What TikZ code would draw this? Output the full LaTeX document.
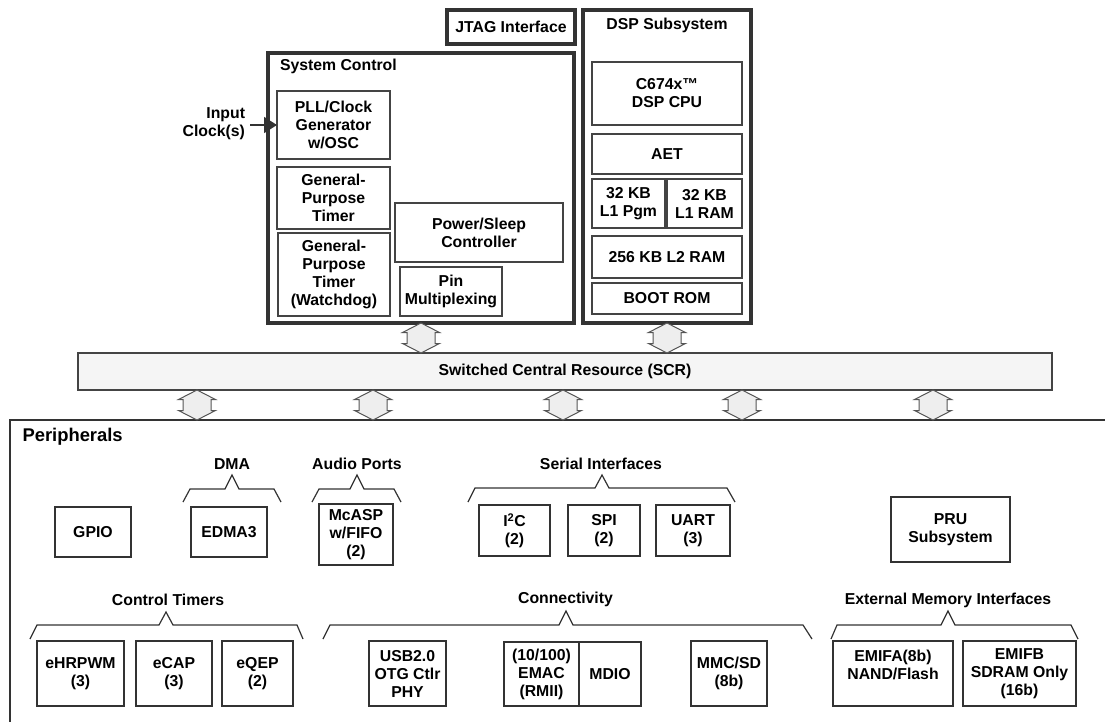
\documentclass[tikz,border=0pt]{standalone}
\usepackage{fontspec}
\setmainfont{Liberation Sans}
\usetikzlibrary{calc,arrows.meta}
\definecolor{dk}{HTML}{333333}
\definecolor{gy}{HTML}{444444}
\definecolor{af}{HTML}{EEEEEE}
\definecolor{ag}{HTML}{555555}
\definecolor{sf}{HTML}{F5F5F5}
\newcommand{\dblarr}[2]{\draw[dblar] (#1) -- ++(18.5,9.5) -- ++(-4.5,0) -- ($(#2)+(14,-9.5)$) -- ++(4.5,0) -- (#2) -- ++(-18.5,-9.5) -- ++(4.5,0) -- ($(#1)+(-14,9.5)$) -- ++(-4.5,0) -- cycle;}
\newcommand{\bx}[7]{%
  \pgfmathsetmacro\bxw{#5-#3}\pgfmathsetmacro\bxh{#6-#4}%
  \pgfmathsetmacro\bxcx{(#3+#5)/2}\pgfmathsetmacro\bxcy{(#4+#6)/2}%
  \node[#1, minimum width=\bxw pt, minimum height=\bxh pt] (#2) at (\bxcx,\bxcy) {#7};}
\begin{document}
\begin{tikzpicture}[x=1pt,y=-1pt,
  every node/.style={font=\bfseries\fontsize{15.8}{18}\selectfont, text=black},
  outerbox/.style={draw=dk, line width=3.3pt, inner sep=0pt, outer sep=0pt, align=center},
  inbox/.style={draw=gy, line width=1.3pt, inner sep=0pt, outer sep=0pt, align=center},
  pbox/.style={draw=dk, line width=2.3pt, inner sep=0pt, outer sep=0pt, align=center},
  scrbox/.style={draw=gy, fill=sf, line width=1.2pt, inner sep=0pt, outer sep=0pt},
  lbl/.style={inner sep=0pt, outer sep=0pt, align=center},
  bracket/.style={draw=dk, line width=1.2pt, line join=miter},
  dblar/.style={draw=ag, fill=af, line width=1pt, line join=miter}]
\useasboundingbox (0,0) rectangle (1105,721);

% top blocks
\bx{outerbox}{jtag}{447}{10}{575}{44}{JTAG Interface}
\bx{outerbox}{sc}{268}{53}{574}{323}{}
\bx{outerbox}{dsp}{583}{10}{751}{323}{}
\node[lbl, anchor=west] (sclbl) at (280,66) {System Control};
\node[lbl] (dsplbl) at (667,25) {DSP Subsystem};

% system control
\bx{inbox}{pll}{277}{91}{390}{159}{PLL/Clock\\Generator\\w/OSC}
\bx{inbox}{gpt}{277}{167}{390}{229}{General-\\Purpose\\Timer}
\bx{inbox}{wd}{278}{233}{390}{316}{General-\\Purpose\\Timer\\(Watchdog)}
\bx{inbox}{pwr}{395}{203}{563}{262}{Power/Sleep\\Controller}
\bx{inbox}{pin}{400}{267}{502}{316}{Pin\\Multiplexing}
\node[lbl, align=right, anchor=east] (inclk) at (245,124) {Input\\Clock(s)};
\draw[draw=dk, line width=1.6pt, -{Triangle[length=13pt,width=16pt]}] ([xshift=5pt]inclk.east |- pll.west) -- (pll.west);

% dsp
\bx{inbox}{cpu}{592}{62}{742}{125}{C674x™\\DSP CPU}
\bx{inbox}{aet}{592}{134}{742}{174}{AET}
\bx{inbox}{l1p}{592}{179}{665}{228}{32 KB\\L1 Pgm}
\bx{inbox}{l1r}{667}{179}{742}{228}{32 KB\\L1 RAM}
\bx{inbox}{l2}{592}{236}{742}{278}{256 KB L2 RAM}
\bx{inbox}{boot}{592}{283}{742}{314}{BOOT ROM}

% SCR
\bx{scrbox}{scr}{78}{353}{1052}{390}{Switched Central Resource (SCR)}
\dblarr{sc.south}{sc.south |- scr.north}
\dblarr{dsp.south}{dsp.south |- scr.north}

% peripherals frame
\coordinate (pfr) at (1110,420);
\coordinate (pfc) at (10,420);
\coordinate (pfb) at (10,726);
\draw[draw=dk, line width=2.5pt] (pfr) -- (pfc) -- (pfb);
\node[lbl, anchor=west, font=\bfseries\fontsize{18.4}{21}\selectfont] (plbl) at (22.5,437) {Peripherals};

\foreach \i/\xx in {1/197,2/373,3/563,4/742,5/933}{
  \coordinate (s\i) at (\xx,390);
  \coordinate (p\i) at (\xx,420);
  \dblarr{s\i}{p\i}
}

% group labels and brackets
\node[lbl] (dmal) at (232,464) {DMA};
\node[lbl] (audl) at (357,464) {Audio Ports};
\node[lbl] (serl) at (601,464) {Serial Interfaces};
\node[lbl] (ctl) at (168,600) {Control Timers};
\node[lbl] (conl) at (565.5,599) {Connectivity};
\node[lbl] (emil) at (948,600) {External Memory Interfaces};

\draw[bracket] (183,502) -- (190,489) -- (225,489) -- (232,475) -- (239,489) -- (274,489) -- (281,502);
\draw[bracket] (312,502) -- (319,489) -- (350,489) -- (357,475) -- (364,489) -- (394,489) -- (401,502);
\draw[bracket] (468,502) -- (475,488) -- (595,488) -- (602,475) -- (609,488) -- (727,488) -- (735,502);
\draw[bracket] (30,639) -- (37,625) -- (159,625) -- (166,612) -- (173,625) -- (297,625) -- (303,639);
\draw[bracket] (323,639) -- (330,625) -- (559,625) -- (566,611) -- (573,625) -- (803,625) -- (812,639);
\draw[bracket] (831,639) -- (837,625) -- (941,625) -- (948,611) -- (955,625) -- (1071,625) -- (1078,639);

% peripheral boxes
\bx{pbox}{gpio}{55}{507}{131}{557}{GPIO}
\bx{pbox}{edma}{191}{507}{267}{557}{EDMA3}
\bx{pbox}{mcasp}{319}{504}{393}{565}{McASP\\w/FIFO\\(2)}
\bx{pbox}{i2c}{479}{505}{550}{556}{I\textsuperscript{2}C\\(2)}
\bx{pbox}{spi}{568}{505}{640}{556}{SPI\\(2)}
\bx{pbox}{uart}{656}{505}{730}{556}{UART\\(3)}
\bx{pbox}{pru}{891}{497}{1010}{562}{PRU\\Subsystem}
\bx{pbox}{pwm}{37}{641}{124}{706}{eHRPWM\\(3)}
\bx{pbox}{ecap}{136}{641}{212}{706}{eCAP\\(3)}
\bx{pbox}{eqep}{222}{641}{293}{706}{eQEP\\(2)}
\bx{pbox}{usb}{369}{641}{446}{706}{USB2.0\\OTG Ctlr\\PHY}
\bx{pbox}{emac}{504}{642}{579}{706}{(10/100)\\EMAC\\(RMII)}
\bx{pbox}{mdio}{579}{642}{641}{706}{MDIO}
\bx{pbox}{mmc}{691}{641}{767}{706}{MMC/SD\\(8b)}
\bx{pbox}{emifa}{833}{641}{953}{706}{EMIFA(8b)\\NAND/Flash\\\mbox{}}
\bx{pbox}{emifb}{963}{641}{1076}{706}{EMIFB\\SDRAM Only\\(16b)}
\end{tikzpicture}
\end{document}
